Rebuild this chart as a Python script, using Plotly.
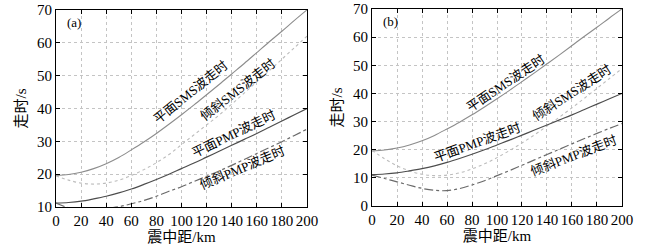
import plotly.graph_objects as go
from plotly.subplots import make_subplots

# epicentral distance (km), shared by all curves
DIST = [0, 10, 20, 30, 40, 50, 60, 70, 80, 90, 100,
        110, 120, 130, 140, 150, 160, 170, 180, 190, 200]

# plane interface curves (same in both panels)
PLANE_SMS = [19.6, 19.9, 20.6, 21.7, 23.2, 25.1, 27.4, 29.8, 32.4, 35.2, 38.1,
             41.1, 44.2, 47.3, 50.5, 53.7, 57.0, 60.3, 63.5, 66.8, 70.0]
PLANE_PMP = [11.2, 11.4, 11.8, 12.5, 13.3, 14.3, 15.5, 16.9, 18.4, 20.0, 21.7,
             23.4, 25.2, 27.0, 28.8, 30.6, 32.4, 34.3, 36.2, 38.1, 40.0]

# panel (a): inclined interface
TILT_SMS_A = [19.5, 18.2, 17.3, 17.0, 17.3, 18.2, 19.6, 21.4, 23.5, 26.0, 29.0,
              32.0, 35.0, 38.0, 41.3, 44.7, 48.1, 51.5, 55.0, 58.5, 62.0]
TILT_PMP_A = [11.2, 9.8, 9.3, 9.2, 9.6, 10.1, 11.0, 12.0, 13.3, 14.8, 16.2,
              17.8, 19.4, 21.0, 22.7, 24.5, 26.3, 28.1, 29.9, 31.8, 33.7]

# panel (b): inclined interface, steeper dip
TILT_SMS_B = [19.8, 16.8, 14.3, 12.5, 11.3, 10.8, 11.0, 11.8, 13.2, 15.0, 17.2,
              19.7, 22.4, 25.3, 28.4, 31.6, 34.9, 38.3, 41.8, 45.3, 48.8]
TILT_PMP_B = [11.0, 9.8, 8.6, 7.4, 6.3, 5.6, 5.5, 6.2, 7.5, 9.0, 10.8,
              12.6, 14.5, 16.4, 18.3, 20.2, 22.1, 24.0, 25.8, 27.6, 29.3]

X_TICKS = [0, 20, 40, 60, 80, 100, 120, 140, 160, 180, 200]

FONT = "Liberation Serif, Noto Sans CJK SC, serif"

# line style per curve
STYLE = {
    "plane_sms": dict(color="#8c8c8c", width=1.1, dash="solid"),
    "tilt_sms":  dict(color="#bcbcbc", width=1.1, dash="dot"),
    "plane_pmp": dict(color="#4d4d4d", width=1.2, dash="solid"),
    "tilt_pmp":  dict(color="#6a6a6a", width=1.2, dash="dashdot"),
}

fig = make_subplots(rows=1, cols=2)

panels = [
    (1, TILT_SMS_A, TILT_PMP_A),
    (2, TILT_SMS_B, TILT_PMP_B),
]
for col, tilt_sms, tilt_pmp in panels:
    for key, ys in [("plane_sms", PLANE_SMS), ("tilt_sms", tilt_sms),
                    ("plane_pmp", PLANE_PMP), ("tilt_pmp", tilt_pmp)]:
        fig.add_trace(go.Scatter(x=DIST, y=ys, mode="lines", line=STYLE[key],
                                 line_shape="spline", showlegend=False,
                                 hoverinfo="skip"), row=1, col=col)

axis_common = dict(
    showline=True, linecolor="black", linewidth=1.2, mirror="ticks",
    ticks="inside", ticklen=4, tickcolor="black", automargin=False,
    showgrid=True, gridcolor="#c4c4c4", griddash="dot", gridwidth=1,
    zeroline=False, tickfont=dict(family=FONT, size=15, color="black"),
)

fig.update_xaxes(axis_common, range=[0, 200], tickvals=X_TICKS, tickangle=0,
                 title=dict(text="震中距/km", font=dict(family=FONT, size=15, color="black"),
                            standoff=2))
fig.update_yaxes(axis_common, dtick=10, tickangle=0,
                 title=dict(text="走时/s", font=dict(family=FONT, size=15, color="black"),
                            standoff=6))
fig.update_yaxes(range=[10, 70], row=1, col=1)
fig.update_yaxes(range=[0, 70], row=1, col=2)

fig.update_layout(
    xaxis=dict(domain=[0.0867, 0.4752]),
    xaxis2=dict(domain=[0.5759, 0.9628]),
    yaxis=dict(domain=[0.165, 0.96]),
    yaxis2=dict(domain=[0.169, 0.964]),
)

# curve labels: (xref, yref, x, y, text, angle)
LABELS = [
    ("x", "y", 106.8, 45.0, "平面SMS波走时", -39),
    ("x", "y", 145.0, 45.9, "倾斜SMS波走时", -38),
    ("x", "y", 141.8, 32.5, "平面PMP波走时", -26),
    ("x", "y", 149.0, 21.9, "倾斜PMP波走时", -23),
    ("x2", "y2", 106.4, 43.7, "平面SMS波走时", -34),
    ("x2", "y2", 160.0, 40.5, "倾斜SMS波走时", -33),
    ("x2", "y2", 84.0, 22.4, "平面PMP波走时", -20),
    ("x2", "y2", 161.6, 18.1, "倾斜PMP波走时", -21),
]
for xr, yr, x, y, text, ang in LABELS:
    fig.add_annotation(xref=xr, yref=yr, x=x, y=y, text=text, textangle=ang,
                       showarrow=False, font=dict(family=FONT, size=13, color="black"))

fig.add_annotation(xref="x domain", yref="y domain", x=0.035, y=0.985, text="(a)",
                   showarrow=False, xanchor="left", yanchor="top",
                   font=dict(family=FONT, size=13, color="black"))
fig.add_annotation(xref="x2 domain", yref="y2 domain", x=0.035, y=0.985, text="(b)",
                   showarrow=False, xanchor="left", yanchor="top",
                   font=dict(family=FONT, size=13, color="black"))

fig.update_layout(
    width=646, height=248,
    margin=dict(l=0, r=0, t=0, b=0),
    plot_bgcolor="white", paper_bgcolor="white",
    font=dict(family=FONT, color="black"),
)

# drop the default body margin so the figure sits at the window's corner
fig.write_html("out.html", config={"displayModeBar": False},
               post_script="document.body.style.margin = '0';")
